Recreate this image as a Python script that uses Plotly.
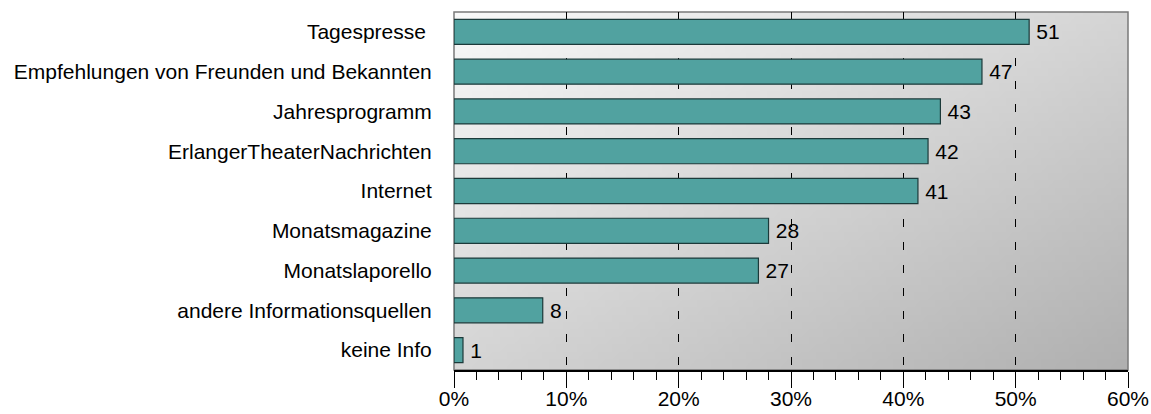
"""Horizontal bar chart: Informationsquellen (percent of respondents)."""
import base64
import struct
import zlib

import plotly.graph_objects as go

categories = [
    "Tagespresse ",
    "Empfehlungen von Freunden und Bekannten",
    "Jahresprogramm",
    "ErlangerTheaterNachrichten",
    "Internet",
    "Monatsmagazine",
    "Monatslaporello",
    "andere Informationsquellen",
    "keine Info",
]
shares = [51.2, 47.0, 43.3, 42.2, 41.3, 28.0, 27.1, 7.9, 0.8]
share_labels = ["51", "47", "43", "42", "41", "28", "27", "8", "1"]
x_ticks = [0, 10, 20, 30, 40, 50, 60]
x_tick_labels = ["0%", "10%", "20%", "30%", "40%", "50%", "60%"]

FONT = "Liberation Sans, Arial, sans-serif"
BAR_FILL = "#51a2a0"
BAR_LINE = "#1c3a3a"


def gradient_png(width, height, light, dark):
    """Grey diagonal gradient (light top-left -> dark bottom-right) as a PNG data URI."""
    rows = b""
    for j in range(height):
        row = bytearray([0])
        for i in range(width):
            t = (i / (width - 1) + j / (height - 1)) / 2
            row.append(int(round(light + (dark - light) * t)))
        rows += bytes(row)

    def chunk(tag, data):
        body = tag + data
        return struct.pack(">I", len(data)) + body + struct.pack(">I", zlib.crc32(body) & 0xFFFFFFFF)

    png = b"\x89PNG\r\n\x1a\n"
    png += chunk(b"IHDR", struct.pack(">IIBBBBB", width, height, 8, 0, 0, 0, 0))
    png += chunk(b"IDAT", zlib.compress(rows, 9))
    png += chunk(b"IEND", b"")
    return "data:image/png;base64," + base64.b64encode(png).decode()


fig = go.Figure(
    go.Bar(
        x=shares,
        y=categories,
        orientation="h",
        width=0.63,
        marker=dict(color=BAR_FILL, line=dict(color=BAR_LINE, width=1.2)),
        text=share_labels,
        texttemplate="\u2009%{text}",
        textposition="outside",
        textfont=dict(family=FONT, size=21, color="#000000"),
        cliponaxis=False,
        hoverinfo="skip",
    )
)

fig.update_layout(
    width=1151,
    height=414,
    margin=dict(l=454, r=23, t=12, b=44),
    paper_bgcolor="white",
    plot_bgcolor="rgba(0,0,0,0)",
    showlegend=False,
    font=dict(family=FONT, size=21, color="#000000"),
    images=[
        dict(
            source=gradient_png(96, 48, 249, 176),
            xref="paper",
            yref="paper",
            x=0,
            y=1,
            sizex=1,
            sizey=1,
            xanchor="left",
            yanchor="top",
            sizing="stretch",
            layer="below",
        )
    ],
    shapes=[
        dict(
            type="rect",
            xref="paper",
            yref="paper",
            x0=0,
            y0=0,
            x1=1,
            y1=1,
            line=dict(color="#7a7a7a", width=1.5),
            layer="below",
        )
    ],
)

fig.update_xaxes(
    range=[0, 60],
    tickvals=x_ticks,
    ticktext=x_tick_labels,
    ticks="outside",
    ticklen=16,
    tickcolor="#000000",
    tickwidth=1,
    ticklabelstandoff=-7,
    minor=dict(dtick=2, ticks="outside", ticklen=8, tickcolor="#000000", showgrid=False),
    showgrid=True,
    gridcolor="#000000",
    gridwidth=1,
    griddash="8px,15px",
    zeroline=False,
    showline=True,
    linecolor="#000000",
    linewidth=1.5,
    tickfont=dict(family=FONT, size=21),
    automargin=False,
    fixedrange=True,
)
fig.update_yaxes(
    autorange="reversed",
    ticks="outside",
    ticklen=17,
    tickcolor="rgba(0,0,0,0)",
    showgrid=False,
    zeroline=False,
    showline=False,
    tickfont=dict(family=FONT, size=21),
    automargin=False,
    fixedrange=True,
)

# drop the page's default body margin so the 1151x414 figure fills the window exactly
fig.write_html(
    "out.html",
    config={"displayModeBar": False},
    post_script="document.body.style.margin = '0';",
)
